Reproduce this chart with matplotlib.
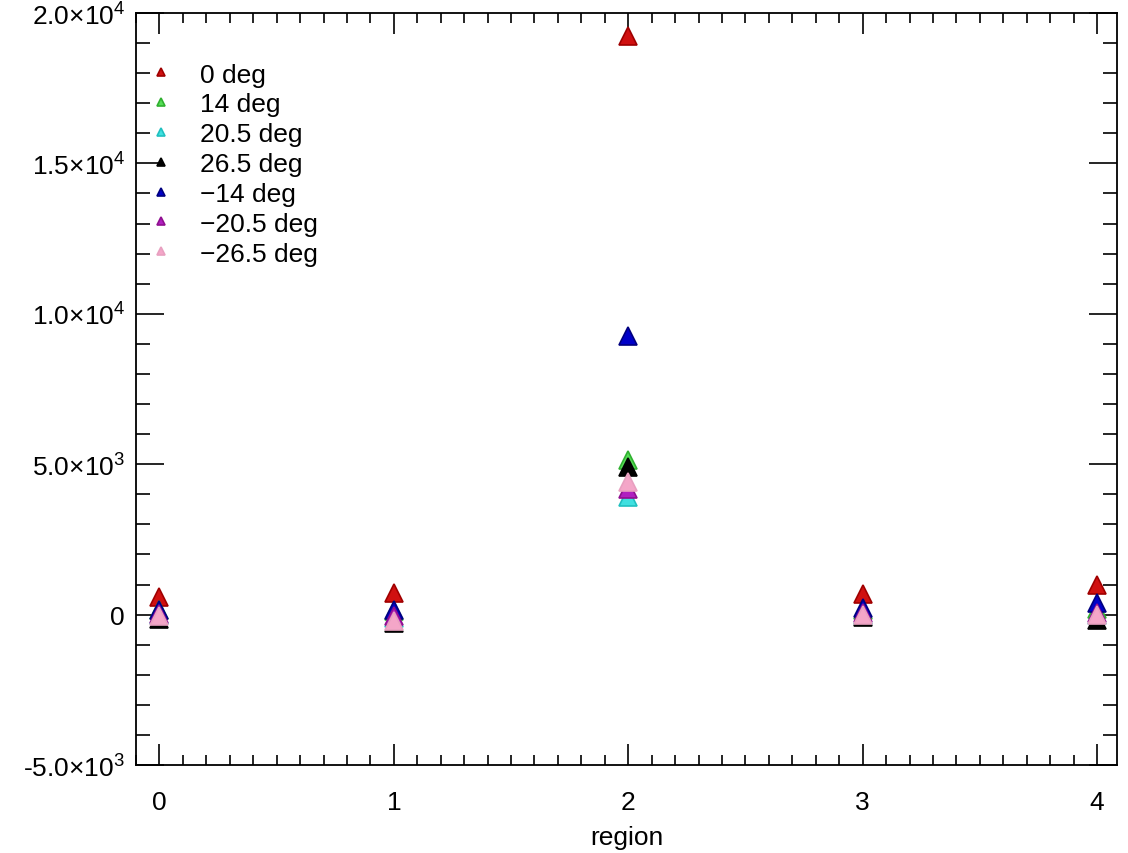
import matplotlib
matplotlib.use('Agg')
import matplotlib.pyplot as plt
from matplotlib.ticker import MultipleLocator, FixedLocator, FixedFormatter

# regions along x
regions = [0, 1, 2, 3, 4]

# one series per tilt angle
labels = ['0 deg', '14 deg', '20.5 deg', '26.5 deg',
          '\u221214 deg', '\u221220.5 deg', '\u221226.5 deg']
deg_0 = [600, 730, 19250, 700, 1000]
deg_14 = [150, 120, 5150, 150, 200]
deg_20_5 = [0, -100, 3900, 0, 0]
deg_26_5 = [-150, -280, 4900, -80, -170]
deg_m14 = [170, 170, 9270, 230, 400]
deg_m20_5 = [30, -60, 4180, 50, 50]
deg_m26_5 = [-50, -220, 4420, 0, 0]
series = [deg_0, deg_14, deg_20_5, deg_26_5, deg_m14, deg_m20_5, deg_m26_5]

colors = ['#d01010', '#55dd55', '#40e0e0', '#000000', '#0000c8', '#b020c0', '#f4a6c8']
edges = ['#a00000', '#30b030', '#20c0c0', '#000000', '#000080', '#901090', '#e8a0c0']

ytick_vals = [-5000, 0, 5000, 10000, 15000, 20000]
ytick_text = [r'-5.0$\times$10$^{3}$', '0', r'5.0$\times$10$^{3}$', r'1.0$\times$10$^{4}$',
              r'1.5$\times$10$^{4}$', r'2.0$\times$10$^{4}$']

plt.rcParams['font.family'] = ['Liberation Sans', 'DejaVu Sans']
plt.rcParams['mathtext.fontset'] = 'custom'
plt.rcParams['mathtext.rm'] = 'Liberation Sans'
plt.rcParams['mathtext.default'] = 'regular'

fig = plt.figure(figsize=(11.28, 8.54), dpi=100)
ax = fig.add_axes([0.1206, 0.1030, 0.8696, 0.8806])

for vals, lab, c, e in zip(series, labels, colors, edges):
    ax.plot(regions, vals, linestyle='none', marker='^', markersize=13,
            markerfacecolor=c, markeredgecolor=e, markeredgewidth=1.2, label=lab)

ax.set_xlim(-0.1, 4.085)
ax.set_ylim(-5000, 20000)

ax.xaxis.set_major_locator(MultipleLocator(1))
ax.xaxis.set_minor_locator(MultipleLocator(0.1))
ax.yaxis.set_major_locator(FixedLocator(ytick_vals))
ax.yaxis.set_major_formatter(FixedFormatter(ytick_text))
ax.yaxis.set_minor_locator(MultipleLocator(1000))

ax.tick_params(axis='both', which='both', direction='in', top=True, right=True,
               width=1.2, labelsize=19, colors='black')
ax.tick_params(axis='x', which='major', length=15, pad=18)
ax.tick_params(axis='x', which='minor', length=7.5)
ax.tick_params(axis='y', which='major', length=20, pad=8)
ax.tick_params(axis='y', which='minor', length=10)
for s in ax.spines.values():
    s.set_linewidth(1.3)

ax.set_xlabel('region', fontsize=19, labelpad=8)

leg = ax.legend(loc='upper left', bbox_to_anchor=(-0.01, 0.962), frameon=False,
                fontsize=19, markerscale=0.42, handlelength=1.0,
                handletextpad=1.0, labelspacing=0.22, borderaxespad=0.4)

fig.savefig('out.png', dpi=100, facecolor='white')
